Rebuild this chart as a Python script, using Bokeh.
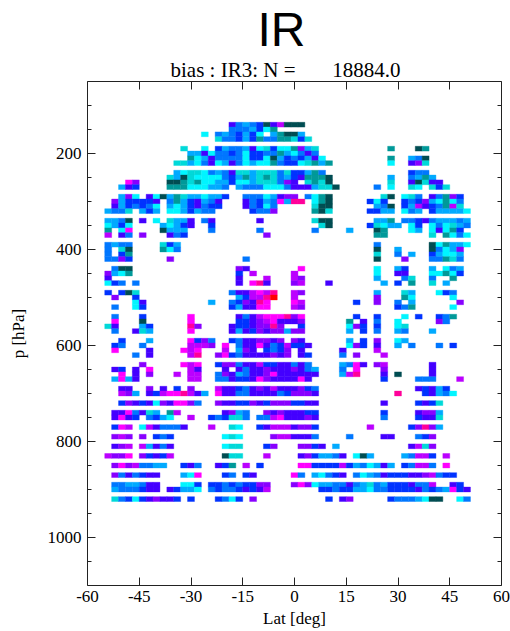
from bokeh.plotting import figure
from bokeh.models import ColumnDataSource, LinearAxis, FixedTicker, Range1d, Title, LinearColorMapper
from bokeh.embed import file_html
from bokeh.resources import INLINE

title_text = "IR"
subtitle_text = "bias : IR3: N =\u00a0\u00a0\u00a0\u00a0\u00a0\u00a0\u00a018884.0"
x_label = "Lat [deg]"
y_label = "p [hPa]"
x_ticks = [-60, -45, -30, -15, 0, 15, 30, 45, 60]
y_ticks = [200, 400, 600, 800, 1000]
y_minor = [100, 150, 250, 300, 350, 450, 500, 550, 650, 700, 750, 850, 900, 950, 1050]

# colour classes of the bias, low to high
levels = "dtckasbivumpr"
level_colors = ["#004d52", "#009999", "#00d9d9", "#00f5ff", "#00aaff", "#0077ff", "#0033ff",
                "#4400ff", "#8800ff", "#bb00ff", "#ff00ff", "#ff0099", "#ff0000"]

# (pressure, first latitude, classes in 2 degree steps; "." = no data)
cells = [
 (140,-18,"isasbdiud"),(140,0,"dd"),
 (150,-18,"sssabkt"),
 (160,-26,"k"),(160,-22,"sasbabk.atdda"),
 (170,-22,"cssbabtsstt"+"cbc"),
 (190,-32,"c"),(190,-26,"k"),(190,-22,"bassaikcbkk"+"tvac"),(190,28,"t"),(190,36,"dt"),
 (200,-30,"aaikssbskbbsstaksis"),
 (210,-30,"tkaisssskbbkdab"+"sbaik"),(210,28,"t"),(210,34,"asd"),
 (220,-34,"ccaksikaiskakktsb"+"bkctat"),(220,28,"k"),(220,34,"ivc"),
 (240,-34,"akccksasiccacccsc"+"bbats"),(240,34,"bss"),
 (250,-36,"cadckkkksbatactcsa"+"bitttd"),(250,28,"a"),(250,34,"sata"),
 (260,-48,"mv"),(260,-36,"ddtctkkaabkkacccsv"+"i.ctcd"),(260,28,"c"),(260,34,"idcii"),
 (270,-50,"aib"),(270,-36,"tttkkkaas.assskkks"+"iiiaccd"),(270,24,"s"),(270,28,"k"),(270,34,"ck"),(270,40,"cbc"),
 (290,-50,"avk"),(290,-42,"ikdatcaakaab"),(290,-14,"ssskaivv.sktd"),(290,26,"cd"),(290,32,"kcs"),(290,40,"istvb"),
 (300,-52,"vabbbbi"),(300,-36,"stabiasi"),(300,-14,"isbasma"),(300,0,"pp"),(300,6,"ktd"),(300,22,"bkb"),(300,32,"bsbvaktks"),
 (310,-52,"iabsbsk"),(310,-36,"akabisbb"),(310,-14,"isbks"),(310,6,"cdd"),(310,24,"asd"),(310,32,"bauibstuc"),
 (320,-54,"assc.aba"),(320,-36,"kkabass"),(320,-12,"bssv"),(320,6,"tdc"),(320,22,"bbaa"),(320,32,"ksa"),(320,40,"baaaak"),
 (340,-54,"aasd"),(340,-44,"i"),(340,-40,"k"),(340,-36,"caai"),(340,-26,"si"),(340,-10,"i"),(340,6,"cdd"),(340,24,"aat"),(340,32,"ssbisaaasa"),
 (350,-54,"kabk"),(350,-38,"akabi"),(350,-24,"b"),(350,8,"cd"),(350,22,"bckaa"),(350,34,"kb"),(350,40,"kskcas"),
 (360,-54,"t"),(360,-50,"km"),(360,-38,"daaa"),(360,-24,"s"),(360,-10,"s"),(360,6,"s"),(360,16,"a"),(360,24,"dt"),(360,34,"ka"),(360,40,"kiktb"),
 (370,-54,"u"),(370,-50,"is"),(370,-44,"v"),(370,-36,"isb"),(370,-8,"v"),(370,24,"tt"),(370,40,"c"),(370,44,"tksk"),
 (390,-54,"sass"),(390,-38,"cba"),(390,24,"s"),(390,40,"dktaak"),
 (400,-54,"s"),(400,-50,"cd"),(400,-38,"tks"),(400,24,"d"),(400,30,"a"),(400,40,"dskav"),
 (410,-54,"s"),(410,-50,"bt"),(410,24,"c"),(410,30,"s"),(410,34,"a"),(410,40,"bakka"),
 (420,-54,"ssvb"),(420,-36,"v"),(420,-14,"s"),(420,24,"d"),(420,32,"v"),(420,40,"sstcs"),
 (440,-52,"sdd"),(440,-16,"vi"),(440,2,"m"),(440,24,"k"),(440,30,"ab"),(440,40,"a"),(440,44,"ksa"),
 (450,-54,"vakt"),(450,-16,"b"),(450,-12,"u"),(450,0,"u"),(450,24,"k"),(450,30,"ii"),(450,40,"kktkb"),
 (460,-54,"i"),(460,-16,"i"),(460,-8,"u"),(460,0,"uv"),(460,24,"a"),(460,32,"sc"),(460,40,"s"),(460,46,"t"),
 (470,-54,"kbs"),(470,-46,"s"),(470,-16,"i"),(470,-12,"mpi"),(470,0,"vu"),(470,10,"i"),(470,26,"a"),(470,30,"b"),(470,34,"t"),(470,40,"c"),(470,44,"a"),
 (490,-54,"b"),(490,-50,"bdc"),(490,-18,"siiumup"),(490,0,"uv"),(490,24,"a"),(490,32,"ca"),(490,42,"kbs"),
 (500,-52,"v"),(500,-46,"b"),(500,-16,"abuupr"),(500,0,"u"),(500,24,"v"),(500,32,"tk"),(500,46,"k"),
 (510,-46,"ki"),(510,-24,"a"),(510,-18,"sbvipm"),(510,0,"mu"),(510,18,"b"),(510,24,"v"),(510,30,"s"),(510,34,"a"),(510,48,"v"),
 (520,-52,"s"),(520,-46,"kb"),(520,-18,"baiimm"),(520,0,"uv"),(520,30,"bst"),(520,46,"k"),
 (540,-52,"s"),(540,-44,"b"),(540,-30,"m"),(540,-16,"isiummmp"),(540,0,"vm"),(540,18,"b"),(540,24,"b"),(540,32,"k"),(540,36,"b"),(540,42,"bst"),
 (550,-52,"m"),(550,-44,"d"),(550,-30,"m"),(550,-16,"bbivumii"),(550,0,"iv"),(550,16,"t"),(550,20,"i"),(550,24,"s"),(550,30,"k"),(550,42,"vs"),
 (560,-54,"ci"),(560,-44,"ab"),(560,-30,"pv"),(560,-18,"ibbivvpv"),(560,2,"b"),(560,16,"kvb"),(560,24,"b"),(560,30,"kc"),
 (570,-52,"s"),(570,-46,"ica"),(570,-30,"m"),(570,-18,"iaibvivva"),(570,0,"vv"),(570,16,"a"),(570,20,"b"),(570,24,"s"),(570,30,"as"),(570,40,"a"),
 (590,-50,"b"),(590,-42,"a"),(590,-30,"mbvs"),(590,-18,"bsiivviv"),(590,0,"vi"),(590,16,"a"),(590,20,"b"),(590,24,"v"),(590,30,"ka"),
 (600,-52,"bs"),(600,-44,"s"),(600,-30,"uuuv"),(600,-20,"m"),(600,-16,"siimisbu"),(600,0,"bbi"),(600,16,"kvb"),(600,24,"i"),(600,30,"a"),(600,34,"s"),(600,42,"s"),(600,46,"b"),
 (610,-52,"m"),(610,-42,"i"),(610,-32,"mum"),(610,-20,"u"),(610,-16,"avi.bsbv"),(610,2,"i"),(610,14,"i"),(610,24,"u"),
 (620,-46,"s"),(620,-42,"i"),(620,-30,"up"),(620,-22,"vmbsiiiiviv"),(620,2,"ib"),(620,14,"s"),(620,18,"v"),(620,26,"u"),
 (640,-44,"v"),(640,-32,"mum"),(640,-22,"bvvsiiubbii"),(640,0,"sis"),(640,14,"asmi"),(640,24,"vu"),(640,40,"i"),
 (650,-52,"ib"),(650,-46,"i"),(650,-42,"m"),(650,-30,"ui"),(650,-20,"i"),(650,-16,"isiiviii"),(650,0,"visa"),(650,14,"s"),(650,18,"m"),(650,26,"v"),(650,40,"i"),
 (660,-50,"m"),(660,-46,"i"),(660,-42,"v"),(660,-34,"u"),(660,-30,"uu"),(660,-22,"sviasiivmii"),(660,0,"iiii"),(660,14,"aup"),(660,26,"i"),(660,30,"d"),(660,40,"i"),
 (670,-52,"amai"),(670,-30,"uu"),(670,-22,"ssibbimviii"),(670,0,"imi"),(670,26,"b"),(670,36,"sss"),(670,48,"u"),
 (690,-50,"ii"),(690,-42,"v"),(690,-38,"i"),(690,-34,"b"),(690,-30,"v"),(690,-22,"uiibsiviuii"),(690,0,"ivbs"),(690,36,"ibiab"),
 (700,-50,"uva"),(700,-42,"ibummpuia"),(700,-22,"miissiiiisb"),(700,0,"vvvi"),(700,30,"p"),(700,38,"biask"),
 (720,-50,"bvibikvimmvs"),(720,-22,"viibbvibvvv"),(720,0,"bbii"),(720,26,"i"),(720,36,"bibc"),
 (740,-52,"iimsica"),(740,-36,"tu"),(740,-20,"ivas"),(740,-8,"vivi"),(740,0,"iibb"),(740,26,"b"),(740,36,"ivva"),
 (750,-52,"imib.sbak"),(750,-30,"u"),(750,-24,"bsbccs"),(750,-10,"ssumi"),(750,0,"iivi"),(750,26,"s"),(750,36,"biic"),
 (770,-52,"bmu"),(770,-44,"kuisssi"),(770,-24,"u"),(770,-18,"ck"),(770,-10,"biuuu"),(770,0,"ivvb"),(770,22,"u"),(770,34,"bvpva"),
 (790,-52,"vuv"),(790,-44,"v"),(790,-40,"bsb"),(790,-20,"kck"),(790,-6,"vuu"),(790,0,"iiis"),(790,16,"s"),(790,26,"ii"),(790,36,"sbv"),
 (810,-52,"ivu"),(810,-44,"uaisi"),(810,-20,"kcc"),(810,-8,"bv"),(810,2,"vvbi"),(810,12,"a"),(810,34,"iucv"),
 (830,-54,"uvvm"),(830,-44,"vbibu"),(830,-20,"dcc"),(830,-8,"u"),(830,2,"ivbaasi"),(830,18,"kda"),(830,32,"asuub"),(830,44,"u"),
 (850,-52,"vmvussaa"),(850,-32,"bis"),(850,-22,"ibt"),(850,-14,"u"),(850,-10,"b"),(850,2,"mmbbbbubaskaia"),(850,32,"bsuus"),(850,44,"m"),
 (870,-52,"vsisbii"),(870,-32,"akm"),(870,-20,"bs"),(870,-14,"bi"),(870,0,"ms"),(870,6,"aksbi"),(870,18,"skasibbbiivusbb"),
 (890,-52,"ssaasii"),(890,-32,"kkb"),(890,-24,"bbsbsbbvv"),(890,0,"vmvkaassisacsabbbissu"),(890,46,"ib"),
 (900,-52,"asssbii"),(900,-36,"ibaak"),(900,-24,"sbssbibiu"),(900,8,"bbsbbaakssbbbbisbsambi"),
 (920,-52,"csbkbiviib"),(920,-30,"b"),(920,-22,"bskb"),(920,-12,"v"),(920,10,"b"),(920,14,"iv"),(920,28,"bsssakdd"),(920,48,"ks"),
]

lat, pres, val = [], [], []
for pressure, first, codes in cells:
    for i, ch in enumerate(codes):
        if ch in levels:
            lat.append(first + 2 * i)
            pres.append(pressure)
            val.append(levels.index(ch))
source = ColumnDataSource(dict(lat=lat, pres=pres, val=val))

SERIF = "Liberation Serif"
p = figure(width=510, height=631, output_backend="svg", toolbar_location=None,
           x_range=Range1d(-60, 60), y_range=Range1d(1100, 50),
           x_axis_label=x_label, y_axis_label=y_label,
           min_border_left=87, min_border_right=9, min_border_top=0, min_border_bottom=46)
p.grid.visible = False
p.outline_line_color = None
mapper = LinearColorMapper(palette=level_colors, low=0, high=len(level_colors))
p.rect("lat", "pres", width=2, height=10, source=source,
       fill_color={"field": "val", "transform": mapper},
       line_color={"field": "val", "transform": mapper}, line_width=0.4)

def style(ax, ticks, minor):
    ax.ticker = FixedTicker(ticks=ticks, minor_ticks=minor)
    ax.major_tick_in = 8
    ax.major_tick_out = 0
    ax.minor_tick_in = 4
    ax.minor_tick_out = 0
    ax.axis_line_color = "#222222"
    ax.major_tick_line_color = "#222222"
    ax.minor_tick_line_color = "#222222"
    ax.major_label_text_font = SERIF
    ax.major_label_text_font_size = "17px"
    ax.major_label_text_color = "black"
    ax.axis_label_text_font = SERIF
    ax.axis_label_text_font_style = "normal"
    ax.axis_label_text_font_size = "17px"
    ax.axis_label_text_color = "black"

style(p.xaxis[0], x_ticks, [])
style(p.yaxis[0], y_ticks, y_minor)
p.xaxis[0].major_label_overrides = {t: str(t) for t in x_ticks}
p.xaxis[0].major_label_standoff = 5
p.xaxis[0].axis_label_standoff = 4
p.yaxis[0].major_label_standoff = 6
p.yaxis[0].axis_label_standoff = 17

top = LinearAxis(); style(top, x_ticks, [])
right = LinearAxis(); style(right, y_ticks, y_minor)
for ax in (top, right):
    ax.major_label_text_font_size = "0px"
    ax.major_label_text_color = None
    ax.major_label_standoff = 0
p.add_layout(top, "above")
p.add_layout(right, "right")

p.title = None
p.add_layout(Title(text=subtitle_text, align="left", offset=83, standoff=0,
                   text_font=SERIF, text_font_size="21px", text_font_style="normal",
                   text_color="black"), "above")
p.add_layout(Title(text=title_text, align="left", offset=170, standoff=0,
                   text_font="Liberation Sans", text_font_size="48px", text_font_style="normal",
                   text_color="black"), "above")

open("out.html", "w").write(file_html(p, INLINE))
